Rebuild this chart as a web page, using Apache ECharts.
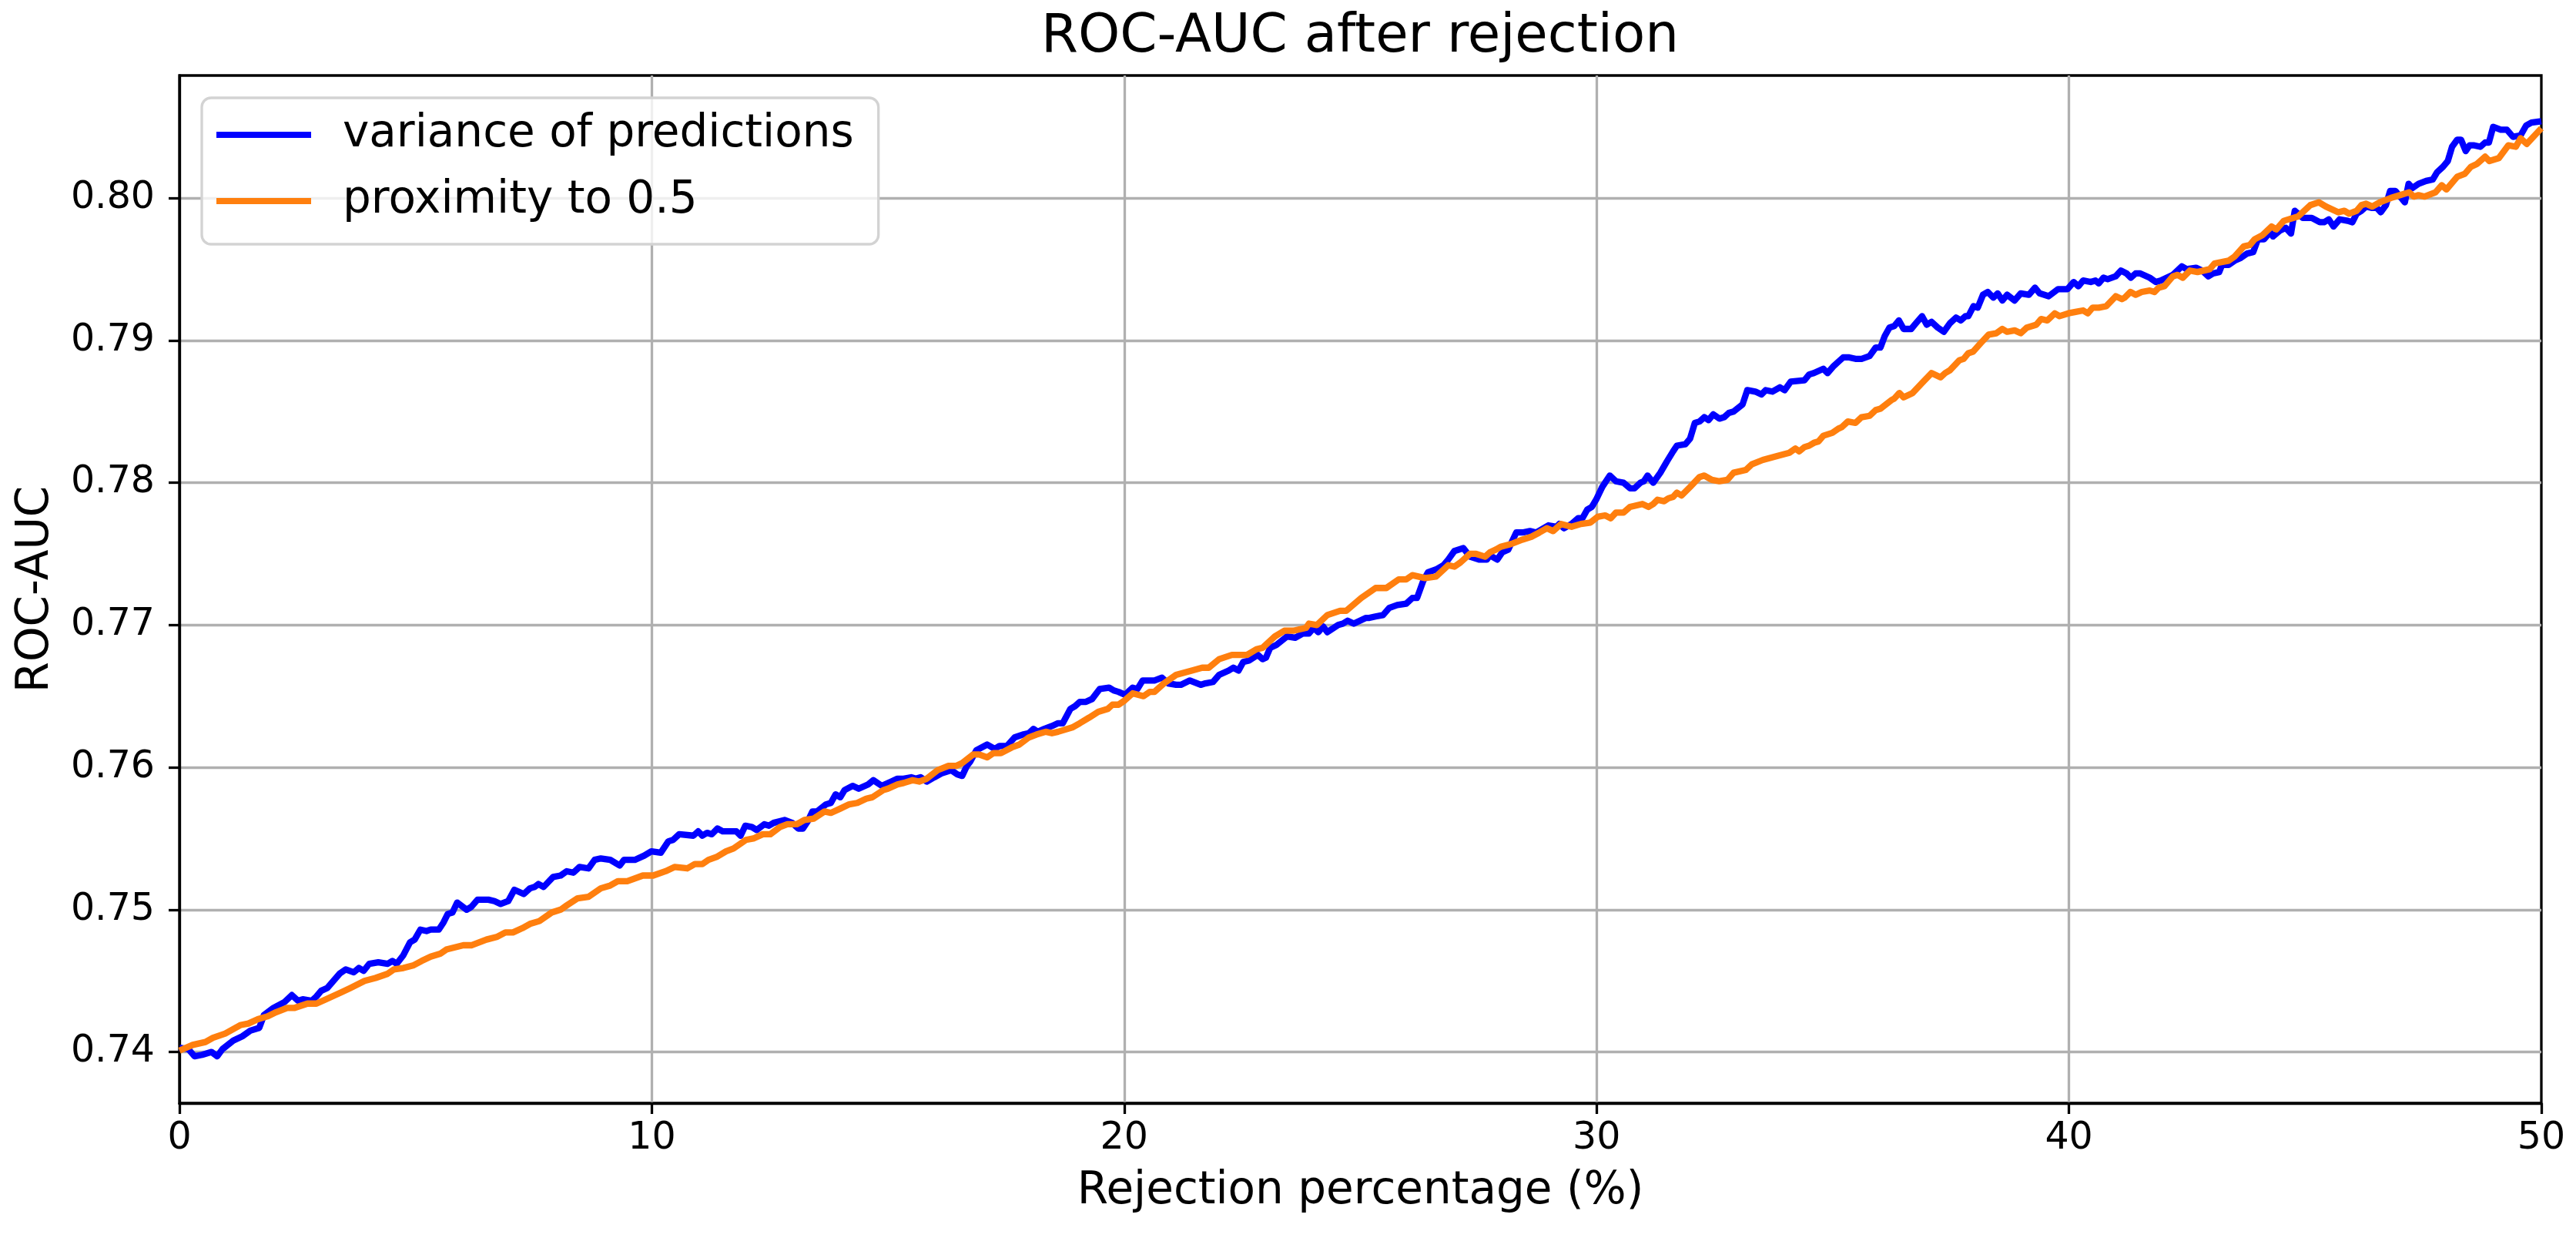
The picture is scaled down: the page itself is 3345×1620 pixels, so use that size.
<!DOCTYPE html>
<html>
<head>
<meta charset="utf-8">
<script src="https://cdn.jsdelivr.net/npm/echarts@6/dist/echarts.min.js"></script>
<style>
html,body{margin:0;padding:0;background:#fff;}
#chart{width:3345px;height:1620px;}
</style>
</head>
<body>
<div id="chart"></div>
<script>
const titleText = 'ROC-AUC after rejection';
const xAxisName = 'Rejection percentage (%)';
const yAxisName = 'ROC-AUC';
const seriesNames = ['variance of predictions', 'proximity to 0.5'];
const xTicks = [0, 10, 20, 30, 40, 50];
const yTicks = [0.74, 0.75, 0.76, 0.77, 0.78, 0.79, 0.80];

const varianceOfPredictions = [[0,.7403],[0.19,.7402],[0.32,.7397],[0.48,.7398],[0.68,.7400],[0.80,.7397],[0.91,.7402],[1.14,.7408],[1.33,.7411],[1.50,.7415],[1.69,.7417],[1.79,.7426],[1.99,.7431],[2.22,.7435],[2.38,.7440],[2.51,.7436],[2.61,.7437],[2.80,.7436],[2.90,.7439],[3.00,.7443],[3.13,.7445],[3.26,.7450],[3.39,.7455],[3.52,.7458],[3.69,.7456],[3.80,.7459],[3.90,.7457],[4.02,.7462],[4.21,.7463],[4.41,.7462],[4.51,.7464],[4.60,.7462],[4.74,.7468],[4.88,.7477],[4.98,.7479],[5.10,.7486],[5.23,.7485],[5.32,.7486],[5.49,.7486],[5.59,.7491],[5.68,.7497],[5.78,.7498],[5.88,.7505],[6.08,.7500],[6.18,.7502],[6.31,.7507],[6.54,.7507],[6.67,.7506],[6.80,.7504],[6.96,.7506],[7.09,.7514],[7.29,.7511],[7.42,.7515],[7.52,.7516],[7.60,.7518],[7.71,.7516],[7.91,.7523],[8.07,.7524],[8.20,.7527],[8.34,.7526],[8.47,.7530],[8.66,.7529],[8.79,.7535],[8.92,.7536],[9.12,.7535],[9.32,.7531],[9.41,.7535],[9.64,.7535],[9.84,.7538],[9.99,.7541],[10.19,.7540],[10.35,.7548],[10.45,.7549],[10.58,.7553],[10.88,.7552],[10.98,.7555],[11.07,.7552],[11.17,.7554],[11.27,.7553],[11.39,.7557],[11.50,.7555],[11.73,.7555],[11.79,.7555],[11.88,.7552],[11.98,.7559],[12.12,.7558],[12.22,.7556],[12.38,.7560],[12.48,.7559],[12.58,.7561],[12.81,.7563],[12.97,.7561],[13.10,.7557],[13.20,.7557],[13.30,.7562],[13.40,.7569],[13.50,.7569],[13.69,.7574],[13.79,.7575],[13.89,.7581],[13.99,.7579],[14.08,.7584],[14.25,.7587],[14.38,.7585],[14.58,.7588],[14.69,.7591],[14.87,.7587],[15.07,.7590],[15.20,.7592],[15.33,.7592],[15.49,.7593],[15.59,.7592],[15.69,.7593],[15.82,.7590],[15.98,.7593],[16.15,.7596],[16.34,.7598],[16.47,.7595],[16.57,.7594],[16.67,.7601],[16.74,.7604],[16.87,.7612],[17.10,.7616],[17.26,.7613],[17.36,.7615],[17.52,.7615],[17.68,.7621],[17.85,.7623],[17.98,.7624],[18.08,.7627],[18.17,.7625],[18.31,.7627],[18.47,.7629],[18.60,.7631],[18.70,.7631],[18.86,.7641],[18.96,.7643],[19.06,.7646],[19.19,.7646],[19.32,.7648],[19.48,.7655],[19.68,.7656],[19.78,.7654],[19.88,.7653],[20.02,.7651],[20.18,.7656],[20.28,.7655],[20.39,.7661],[20.64,.7661],[20.80,.7663],[20.93,.7659],[21.10,.7658],[21.20,.7658],[21.39,.7661],[21.62,.7658],[21.72,.7659],[21.88,.7660],[22.01,.7665],[22.21,.7668],[22.31,.7670],[22.42,.7668],[22.52,.7674],[22.64,.7675],[22.83,.7679],[22.93,.7676],[23.00,.7677],[23.09,.7684],[23.22,.7686],[23.45,.7692],[23.62,.7691],[23.78,.7694],[23.91,.7694],[24.01,.7698],[24.11,.7695],[24.21,.7699],[24.30,.7695],[24.53,.7700],[24.63,.7701],[24.73,.7703],[24.86,.7701],[25.12,.7705],[25.19,.7705],[25.32,.7706],[25.48,.7707],[25.61,.7712],[25.78,.7714],[25.97,.7715],[26.10,.7719],[26.20,.7719],[26.33,.7731],[26.43,.7737],[26.60,.7739],[26.76,.7742],[26.86,.7746],[26.99,.7752],[27.18,.7754],[27.32,.7748],[27.51,.7746],[27.68,.7746],[27.74,.7749],[27.90,.7746],[28.00,.7751],[28.13,.7753],[28.30,.7765],[28.43,.7765],[28.59,.7766],[28.72,.7765],[28.98,.7770],[29.15,.7769],[29.21,.7771],[29.31,.7768],[29.47,.7771],[29.61,.7775],[29.70,.7775],[29.80,.7781],[29.90,.7783],[29.99,.7788],[30.12,.7797],[30.28,.7805],[30.41,.7801],[30.57,.7800],[30.71,.7796],[30.80,.7796],[30.93,.7800],[31.00,.7801],[31.08,.7805],[31.20,.7800],[31.35,.7807],[31.49,.7815],[31.62,.7822],[31.70,.7826],[31.88,.7827],[31.98,.7831],[32.08,.7842],[32.18,.7843],[32.28,.7846],[32.37,.7844],[32.47,.7848],[32.60,.7845],[32.70,.7846],[32.80,.7849],[32.90,.7850],[33.09,.7855],[33.19,.7865],[33.36,.7864],[33.49,.7862],[33.58,.7865],[33.72,.7864],[33.88,.7867],[33.98,.7865],[34.11,.7871],[34.40,.7872],[34.50,.7876],[34.60,.7877],[34.80,.7880],[34.89,.7877],[35.02,.7882],[35.12,.7885],[35.22,.7888],[35.35,.7888],[35.48,.7887],[35.61,.7887],[35.78,.7889],[35.91,.7895],[36.01,.7895],[36.10,.7903],[36.20,.7909],[36.30,.7910],[36.40,.7914],[36.50,.7908],[36.66,.7908],[36.76,.7912],[36.89,.7917],[36.99,.7911],[37.09,.7913],[37.22,.7909],[37.35,.7906],[37.48,.7912],[37.61,.7916],[37.71,.7914],[37.81,.7917],[37.87,.7917],[37.98,.7924],[38.07,.7923],[38.18,.7932],[38.28,.7934],[38.40,.7930],[38.49,.7933],[38.59,.7928],[38.69,.7932],[38.85,.7928],[38.98,.7933],[39.15,.7932],[39.28,.7937],[39.38,.7933],[39.57,.7931],[39.77,.7936],[39.97,.7936],[40.10,.7941],[40.20,.7938],[40.30,.7942],[40.46,.7941],[40.56,.7942],[40.63,.7940],[40.73,.7944],[40.82,.7943],[40.99,.7945],[41.10,.7949],[41.22,.7947],[41.31,.7944],[41.41,.7947],[41.51,.7947],[41.71,.7944],[41.84,.7941],[41.94,.7942],[42.07,.7944],[42.20,.7946],[42.39,.7952],[42.49,.7950],[42.69,.7951],[42.82,.7949],[42.95,.7945],[43.05,.7947],[43.18,.7948],[43.24,.7953],[43.38,.7953],[43.51,.7956],[43.64,.7958],[43.77,.7961],[43.90,.7962],[44.00,.7971],[44.13,.7971],[44.26,.7976],[44.32,.7973],[44.46,.7977],[44.59,.7979],[44.70,.7975],[44.78,.7991],[44.95,.7986],[45.14,.7986],[45.31,.7983],[45.40,.7983],[45.50,.7985],[45.60,.7980],[45.73,.7985],[45.90,.7984],[46.00,.7983],[46.09,.7989],[46.19,.7991],[46.29,.7994],[46.42,.7993],[46.52,.7993],[46.60,.7990],[46.71,.7995],[46.80,.8005],[46.91,.8005],[47.01,.8001],[47.11,.7997],[47.19,.8010],[47.27,.8007],[47.40,.8010],[47.56,.8012],[47.70,.8013],[47.79,.8018],[47.92,.8022],[48.02,.8026],[48.11,.8036],[48.22,.8041],[48.30,.8041],[48.40,.8033],[48.48,.8037],[48.58,.8037],[48.71,.8036],[48.81,.8039],[48.89,.8039],[48.98,.8050],[49.14,.8048],[49.27,.8048],[49.40,.8043],[49.56,.8044],[49.68,.8051],[49.79,.8053],[50,.8054]];

const proximityToHalf = [[0,.7401],[0.28,.7405],[0.55,.7407],[0.71,.7410],[0.97,.7413],[1.30,.7419],[1.46,.7420],[1.66,.7423],[1.86,.7425],[2.05,.7428],[2.28,.7431],[2.44,.7431],[2.71,.7434],[2.90,.7434],[3.10,.7437],[3.43,.7442],[3.62,.7445],[3.92,.7450],[4.15,.7452],[4.41,.7455],[4.54,.7458],[4.74,.7459],[4.96,.7461],[5.13,.7464],[5.32,.7467],[5.52,.7469],[5.65,.7472],[6.01,.7475],[6.18,.7475],[6.50,.7479],[6.73,.7481],[6.90,.7484],[7.06,.7484],[7.26,.7487],[7.42,.7490],[7.62,.7492],[7.88,.7498],[8.07,.7500],[8.20,.7503],[8.43,.7508],[8.66,.7509],[8.92,.7515],[9.12,.7517],[9.28,.7520],[9.48,.7520],[9.81,.7524],[10.03,.7524],[10.29,.7527],[10.48,.7530],[10.75,.7529],[10.91,.7532],[11.07,.7532],[11.20,.7535],[11.37,.7537],[11.57,.7541],[11.73,.7543],[11.99,.7549],[12.15,.7550],[12.35,.7553],[12.51,.7553],[12.71,.7558],[12.87,.7560],[13.07,.7560],[13.23,.7563],[13.43,.7564],[13.66,.7569],[13.79,.7568],[13.99,.7571],[14.18,.7574],[14.35,.7575],[14.54,.7578],[14.67,.7579],[14.90,.7584],[15.00,.7585],[15.20,.7588],[15.33,.7589],[15.52,.7591],[15.66,.7590],[15.82,.7592],[16.05,.7598],[16.28,.7601],[16.44,.7601],[16.57,.7603],[16.80,.7609],[16.93,.7609],[17.10,.7607],[17.23,.7610],[17.39,.7610],[17.62,.7614],[17.78,.7616],[17.98,.7621],[18.14,.7623],[18.34,.7625],[18.47,.7624],[18.60,.7625],[18.90,.7628],[19.06,.7631],[19.26,.7635],[19.45,.7639],[19.65,.7641],[19.75,.7644],[19.88,.7644],[20.01,.7647],[20.18,.7652],[20.41,.7650],[20.54,.7653],[20.64,.7653],[20.84,.7659],[21.10,.7665],[21.43,.7668],[21.65,.7670],[21.79,.7670],[22.01,.7676],[22.28,.7679],[22.47,.7679],[22.60,.7679],[22.80,.7683],[22.93,.7684],[23.19,.7692],[23.39,.7696],[23.58,.7696],[23.85,.7698],[23.91,.7701],[24.08,.7700],[24.30,.7707],[24.57,.7710],[24.70,.7710],[25.02,.7719],[25.32,.7726],[25.55,.7726],[25.81,.7732],[25.97,.7732],[26.10,.7735],[26.37,.7733],[26.60,.7734],[26.86,.7742],[26.99,.7741],[27.12,.7744],[27.32,.7750],[27.45,.7750],[27.64,.7748],[27.74,.7751],[27.87,.7753],[27.97,.7755],[28.20,.7757],[28.43,.7760],[28.62,.7762],[28.79,.7765],[28.95,.7768],[29.08,.7766],[29.25,.7771],[29.47,.7769],[29.67,.7771],[29.87,.7772],[30.02,.7776],[30.18,.7777],[30.30,.7775],[30.41,.7779],[30.57,.7779],[30.71,.7783],[30.97,.7785],[31.10,.7783],[31.20,.7785],[31.29,.7788],[31.43,.7787],[31.52,.7789],[31.62,.7790],[31.70,.7793],[31.80,.7791],[31.98,.7797],[32.18,.7804],[32.28,.7805],[32.44,.7802],[32.60,.7801],[32.77,.7802],[32.90,.7807],[33.16,.7809],[33.29,.7813],[33.52,.7816],[33.85,.7819],[34.08,.7821],[34.21,.7824],[34.29,.7822],[34.40,.7825],[34.50,.7826],[34.60,.7828],[34.70,.7829],[34.80,.7833],[34.99,.7835],[35.12,.7838],[35.19,.7839],[35.32,.7843],[35.48,.7842],[35.61,.7846],[35.78,.7847],[35.91,.7851],[36.01,.7852],[36.24,.7858],[36.30,.7859],[36.41,.7863],[36.50,.7860],[36.69,.7863],[36.89,.7870],[37.09,.7877],[37.28,.7874],[37.38,.7877],[37.48,.7879],[37.68,.7886],[37.77,.7887],[37.87,.7891],[37.97,.7892],[38.13,.7898],[38.30,.7904],[38.46,.7905],[38.59,.7908],[38.69,.7906],[38.85,.7907],[38.98,.7905],[39.11,.7909],[39.31,.7911],[39.41,.7915],[39.54,.7914],[39.70,.7919],[39.80,.7917],[39.99,.7919],[40.14,.7920],[40.30,.7921],[40.40,.7919],[40.50,.7923],[40.63,.7923],[40.79,.7924],[40.99,.7931],[41.12,.7929],[41.18,.7930],[41.30,.7934],[41.41,.7932],[41.54,.7934],[41.71,.7935],[41.81,.7934],[41.90,.7937],[42.02,.7938],[42.20,.7945],[42.30,.7946],[42.41,.7944],[42.56,.7949],[42.72,.7948],[42.98,.7950],[43.08,.7954],[43.38,.7956],[43.51,.7959],[43.70,.7966],[43.83,.7967],[43.93,.7971],[44.10,.7974],[44.29,.7980],[44.39,.7978],[44.55,.7984],[44.85,.7987],[45.11,.7995],[45.29,.7997],[45.44,.7994],[45.70,.7990],[45.83,.7991],[45.93,.7989],[46.09,.7991],[46.19,.7995],[46.29,.7996],[46.42,.7994],[46.58,.7997],[46.81,.8000],[47.01,.8002],[47.20,.8004],[47.30,.8001],[47.40,.8002],[47.53,.8001],[47.76,.8004],[47.89,.8009],[47.99,.8006],[48.22,.8015],[48.38,.8017],[48.51,.8022],[48.64,.8024],[48.81,.8029],[48.90,.8026],[49.10,.8028],[49.30,.8037],[49.46,.8036],[49.56,.8042],[49.69,.8038],[50,.8049]];

const FONT = 'DejaVu Sans';
const isYTick = v => yTicks.some(t => Math.abs(t - v) < 1e-6);
const chart = echarts.init(document.getElementById('chart'), null, {renderer: 'canvas'});
const option = {
  animation: false,
  backgroundColor: '#ffffff',
  textStyle: {fontFamily: FONT, color: '#000'},
  title: {
    text: titleText,
    left: 1766,
    top: 15,
    padding: 0,
    textAlign: 'center',
    textStyle: {fontFamily: FONT, fontSize: 69, fontWeight: 'normal', color: '#000', lineHeight: 69}
  },
  grid: {
    left: 233, right: 45, top: 98, bottom: 188,
    show: true, borderColor: '#000', borderWidth: 3.3, backgroundColor: 'transparent'
  },
  legend: {
    orient: 'vertical',
    left: 262, top: 127,
    padding: [19, 32, 27, 19],
    itemGap: 28,
    itemWidth: 123, itemHeight: 8,
    icon: 'rect',
    backgroundColor: 'rgba(255,255,255,0.8)',
    borderColor: '#d3d3d3',
    borderWidth: 3.3,
    borderRadius: 12,
    textStyle: {fontFamily: FONT, fontSize: 58, lineHeight: 58, color: '#000', padding: [0, 0, 0, 36]},
    data: seriesNames
  },
  xAxis: {
    type: 'value',
    min: xTicks[0], max: xTicks[xTicks.length - 1], interval: 10,
    name: xAxisName, nameLocation: 'middle', nameGap: 86,
    nameTextStyle: {fontFamily: FONT, fontSize: 58, color: '#000', lineHeight: 58},
    axisLine: {show: true, onZero: false, lineStyle: {color: '#000', width: 3.3}},
    axisTick: {show: true, inside: false, length: 14, lineStyle: {color: '#000', width: 3.3}},
    axisLabel: {fontFamily: FONT, fontSize: 49, color: '#000', margin: 22, formatter: v => String(v)},
    splitLine: {show: true, showMinLine: false, showMaxLine: false, lineStyle: {color: '#b0b0b0', width: 3.3}}
  },
  yAxis: {
    type: 'value',
    min: 0.736405, max: 0.808608,
    splitNumber: 7,
    name: yAxisName, nameLocation: 'middle', nameGap: 157, nameRotate: 90,
    nameTextStyle: {fontFamily: FONT, fontSize: 58, color: '#000', lineHeight: 58},
    axisLine: {show: true, onZero: false, lineStyle: {color: '#000', width: 3.3}},
    axisTick: {show: true, inside: false, length: 14, customValues: yTicks, lineStyle: {color: '#000', width: 3.3}},
    axisLabel: {fontFamily: FONT, fontSize: 49, color: '#000', margin: 32,
      formatter: v => isYTick(v) ? v.toFixed(2) : ''},
    splitLine: {show: true, lineStyle: {color: '#b0b0b0', width: 3.3}}
  },
  series: [
    {
      name: seriesNames[0], type: 'line', data: varianceOfPredictions,
      showSymbol: false, symbol: 'none', color: '#0000ff',
      lineStyle: {color: '#0000ff', width: 8.3, join: 'round', cap: 'butt'},
      z: 3
    },
    {
      name: seriesNames[1], type: 'line', data: proximityToHalf,
      showSymbol: false, symbol: 'none', color: '#ff7f0e',
      lineStyle: {color: '#ff7f0e', width: 8.3, join: 'round', cap: 'butt'},
      z: 4
    }
  ]
};
chart.setOption(option);
</script>
</body>
</html>
